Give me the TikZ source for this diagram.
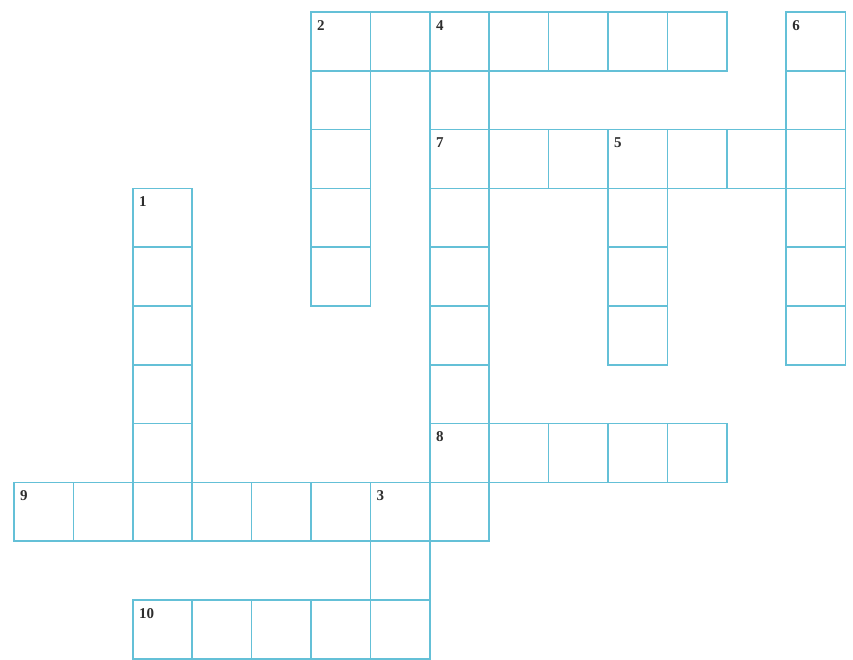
\documentclass[tikz,border=0pt]{standalone}
\usepackage{fontspec}
\setmainfont{Liberation Serif}
\definecolor{gridblue}{RGB}{100,192,215}
\definecolor{numgray}{RGB}{45,45,45}
\begin{document}
\begin{tikzpicture}[x=1pt,y=-1pt,
  cellbox/.style={draw=gridblue, line width=1.5pt},
  numlabel/.style={font=\bfseries\fontsize{15}{15}\selectfont, text=numgray, anchor=north west, inner sep=0pt}]
\useasboundingbox (0,0) rectangle (853,660);
\newcommand\cellat[2]{\draw[cellbox] ({14+#1*59.4},{12+#2*58.8}) rectangle ++(59.4,58.8);}
\newcommand\numat[3]{\node[numlabel] (n#3) at ({14+#1*59.4+6},{12+#2*58.8+8}) {#3};}
% 2 across
\foreach \c in {5,...,11} {\cellat{\c}{0}}
% 2 down
\foreach \r in {0,...,4} {\cellat{5}{\r}}
% 4 down
\foreach \r in {0,...,8} {\cellat{7}{\r}}
% 6 down
\foreach \r in {0,...,5} {\cellat{13}{\r}}
% 7 across
\foreach \c in {7,...,13} {\cellat{\c}{2}}
% 5 down
\foreach \r in {2,...,5} {\cellat{10}{\r}}
% 1 down
\foreach \r in {3,...,8} {\cellat{2}{\r}}
% 8 across
\foreach \c in {7,...,11} {\cellat{\c}{7}}
% 9 across
\foreach \c in {0,...,7} {\cellat{\c}{8}}
% 3 down
\foreach \r in {8,...,10} {\cellat{6}{\r}}
% 10 across
\foreach \c in {2,...,6} {\cellat{\c}{10}}
% numbers
\numat{5}{0}{2}
\numat{7}{0}{4}
\numat{13}{0}{6}
\numat{7}{2}{7}
\numat{10}{2}{5}
\numat{2}{3}{1}
\numat{7}{7}{8}
\numat{0}{8}{9}
\numat{6}{8}{3}
\numat{2}{10}{10}
\end{tikzpicture}
\end{document}
